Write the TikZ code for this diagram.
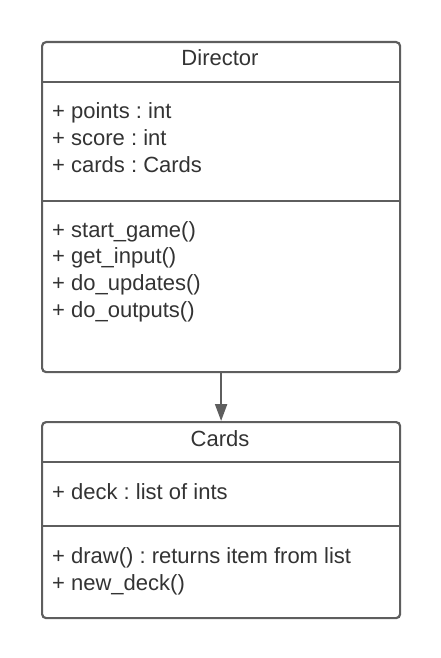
\documentclass[tikz,border=0pt]{standalone}
\usepackage{fontspec}
\setmainfont{Liberation Sans}
\usetikzlibrary{arrows.meta}
\definecolor{linec}{HTML}{5E5E5E}
\definecolor{txtc}{HTML}{333333}
\tikzset{
  classbox/.style={draw=linec, line width=2.2pt, rounded corners=4pt, anchor=north west, inner sep=0pt},
  divider/.style={draw=linec, line width=2.2pt},
  member/.style={anchor=base west, inner sep=0pt, text=txtc, font=\fontsize{22}{26}\selectfont},
  title/.style={anchor=base, inner sep=0pt, text=txtc, font=\fontsize{22}{26}\selectfont},
  assoc/.style={draw=linec, line width=2.2pt, -{Triangle[width=12pt,length=17pt]}},
}
\frenchspacing
\begin{document}
\begin{tikzpicture}[x=1pt,y=-1pt]
\useasboundingbox (0,0) rectangle (440,658);
% Director
\node[classbox, minimum width=358pt, minimum height=330pt] (dir) at (41,41) {};
\draw[divider] (41,82) -- (399,82);
\draw[divider] (41,201) -- (399,201);
\node[title] (dirname) at (220,66) {Director};
\node[member] (a1) at (52,119) {+ points : int};
\node[member] (a2) at (52,146) {+ score : int};
\node[member] (a3) at (52,172) {+ cards : Cards};
\node[member] (m1) at (52,237) {+ start\_game()};
\node[member] (m2) at (52,263) {+ get\_input()};
\node[member] (m3) at (52,290) {+ do\_updates()};
\node[member] (m4) at (52,317) {+ do\_outputs()};
% Cards
\node[classbox, minimum width=358pt, minimum height=196pt] (cards) at (41,421) {};
\draw[divider] (41,462) -- (399,462);
\draw[divider] (41,526) -- (399,526);
\node[title] (cardsname) at (220,446) {Cards};
\node[member] (c1) at (52,499) {+ deck : list of ints};
\node[member] (c2) at (52,563) {+ draw() : returns item from list};
\node[member] (c3) at (52,590) {+ new\_deck()};
% association
\draw[assoc] (dir.south) -- (cards.north);
\end{tikzpicture}
\end{document}
